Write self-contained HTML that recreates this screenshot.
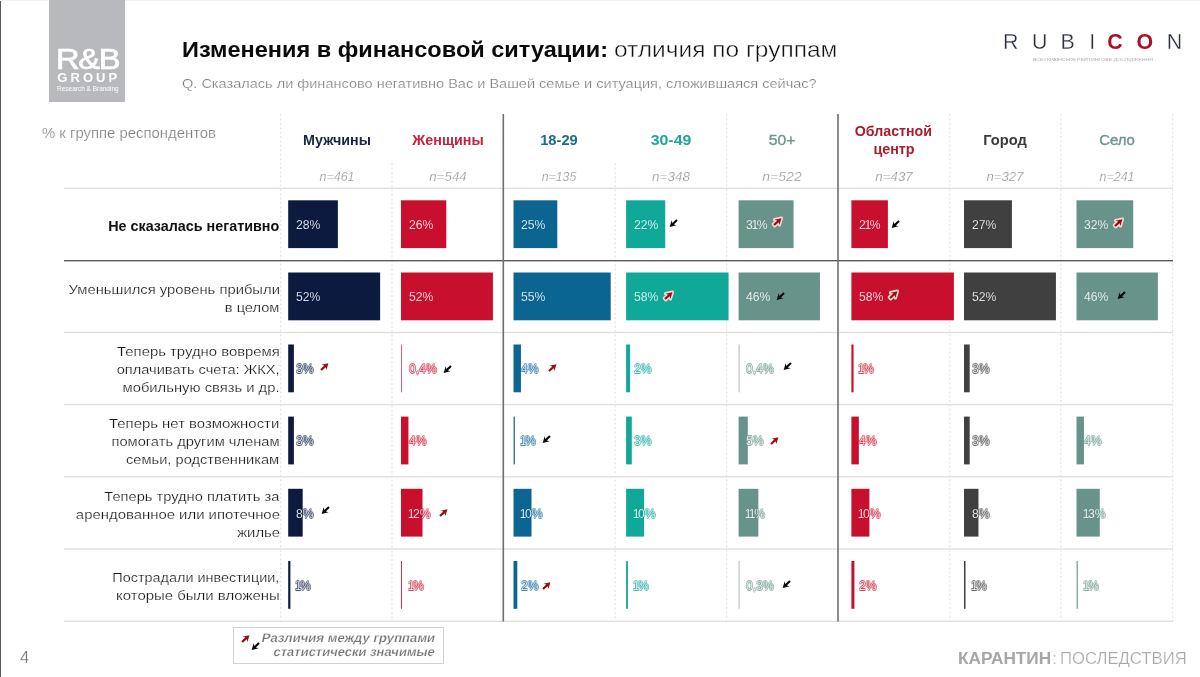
<!DOCTYPE html>
<html lang="ru"><head><meta charset="utf-8"><title>Изменения в финансовой ситуации</title>
<style>
html,body{margin:0;padding:0;background:#fff;}
body{width:1200px;height:677px;position:relative;overflow:hidden;font-family:"Liberation Sans", Arial, sans-serif;}
.t{position:absolute;white-space:nowrap;line-height:1;}
.b{position:absolute;}
.l{position:absolute;white-space:nowrap;line-height:1;font-size:13.5px;color:#fff;-webkit-text-stroke:0.25px var(--k);transform:scaleX(0.9);transform-origin:0 50%;text-shadow:.85px 0 var(--c),-.85px 0 var(--c),0 .85px var(--c),0 -.85px var(--c),.6px .6px var(--c),-.6px .6px var(--c),.6px -.6px var(--c),-.6px -.6px var(--c);}
.l i{font-style:normal;margin:0 -1.5px;}
.hl{position:absolute;height:1.5px;left:64px;width:1109px;background:#e0e0e0;}
.vd{position:absolute;width:1.3px;background:repeating-linear-gradient(to bottom,#e4e4e4 0,#e4e4e4 2.2px,transparent 2.2px,transparent 4.4px);}
.vs{position:absolute;width:1.6px;background:#6e6e6e;}
svg{position:absolute;overflow:visible;}
</style></head><body>
<div class="b" style="left:0;top:0;width:1.2px;height:677px;background:#585858"></div>
<div class="b" style="left:0;top:0;width:1200px;height:1px;background:#f3f3f3"></div>
<div class="b" style="left:49.3px;top:0;width:75.6px;height:101.6px;background:#b8b9bd"></div>
<svg width="1200" height="677" viewBox="0 0 1200 677" style="left:0;top:0">
<line x1="280.60" y1="114" x2="280.60" y2="621.5" stroke="#e7e7e7" stroke-width="1.3" stroke-dasharray="2.2 2.2"/>
<line x1="392.00" y1="163" x2="392.00" y2="621.5" stroke="#e7e7e7" stroke-width="1.3" stroke-dasharray="2.2 2.2"/>
<line x1="615.20" y1="163" x2="615.20" y2="621.5" stroke="#e7e7e7" stroke-width="1.3" stroke-dasharray="2.2 2.2"/>
<line x1="726.60" y1="114" x2="726.60" y2="621.5" stroke="#e7e7e7" stroke-width="1.3" stroke-dasharray="2.2 2.2"/>
<line x1="949.70" y1="114" x2="949.70" y2="621.5" stroke="#e7e7e7" stroke-width="1.3" stroke-dasharray="2.2 2.2"/>
<line x1="1060.80" y1="114" x2="1060.80" y2="621.5" stroke="#e7e7e7" stroke-width="1.3" stroke-dasharray="2.2 2.2"/>
<line x1="1172.60" y1="114" x2="1172.60" y2="621.5" stroke="#e7e7e7" stroke-width="1.3" stroke-dasharray="2.2 2.2"/>
<rect x="64" y="187.60" width="1109" height="1.4" fill="#e0e0e0"/>
<rect x="64" y="260.05" width="1109" height="1.3" fill="#505050"/>
<rect x="64" y="331.80" width="1109" height="1.4" fill="#e0e0e0"/>
<rect x="64" y="403.90" width="1109" height="1.4" fill="#e0e0e0"/>
<rect x="64" y="476.10" width="1109" height="1.4" fill="#e0e0e0"/>
<rect x="64" y="548.30" width="1109" height="1.4" fill="#e0e0e0"/>
<rect x="64" y="620.60" width="1109" height="1.4" fill="#e0e0e0"/>
<rect x="502.50" y="114" width="1.6" height="507.5" fill="#6e6e6e"/>
<rect x="837.20" y="114" width="1.6" height="507.5" fill="#6e6e6e"/>
<rect x="288.20" y="200.30" width="49.68" height="47.80" fill="#0c1a40"/>
<rect x="401.00" y="200.30" width="45.30" height="47.80" fill="#c8102e"/>
<rect x="513.50" y="200.30" width="43.80" height="47.80" fill="#0c6591"/>
<rect x="626.10" y="200.30" width="39.12" height="47.80" fill="#0fa899"/>
<rect x="738.60" y="200.30" width="54.96" height="47.80" fill="#67938a"/>
<rect x="851.40" y="200.30" width="36.50" height="47.80" fill="#c8102e"/>
<rect x="964.00" y="200.30" width="47.92" height="47.80" fill="#404040"/>
<rect x="1076.50" y="200.30" width="56.72" height="47.80" fill="#67938a"/>
<rect x="288.20" y="272.50" width="91.92" height="47.80" fill="#0c1a40"/>
<rect x="401.00" y="272.50" width="91.92" height="47.80" fill="#c8102e"/>
<rect x="513.50" y="272.50" width="97.20" height="47.80" fill="#0c6591"/>
<rect x="626.10" y="272.50" width="102.48" height="47.80" fill="#0fa899"/>
<rect x="738.60" y="272.50" width="81.36" height="47.80" fill="#67938a"/>
<rect x="851.40" y="272.50" width="102.48" height="47.80" fill="#c8102e"/>
<rect x="964.00" y="272.50" width="91.92" height="47.80" fill="#404040"/>
<rect x="1076.50" y="272.50" width="81.36" height="47.80" fill="#67938a"/>
<rect x="288.20" y="344.50" width="5.68" height="47.80" fill="#0c1a40"/>
<rect x="401.00" y="344.50" width="1.00" height="47.80" fill="#d9627a"/>
<rect x="513.50" y="344.50" width="7.44" height="47.80" fill="#0c6591"/>
<rect x="626.10" y="344.50" width="3.92" height="47.80" fill="#0fa899"/>
<rect x="738.60" y="344.50" width="1.00" height="47.80" fill="#aeb8b5"/>
<rect x="851.40" y="344.50" width="2.16" height="47.80" fill="#c8102e"/>
<rect x="964.00" y="344.50" width="5.68" height="47.80" fill="#404040"/>
<rect x="288.20" y="416.60" width="5.68" height="47.80" fill="#0c1a40"/>
<rect x="401.00" y="416.60" width="7.44" height="47.80" fill="#c8102e"/>
<rect x="513.50" y="416.60" width="1.50" height="47.80" fill="#3b7fa3"/>
<rect x="626.10" y="416.60" width="5.68" height="47.80" fill="#0fa899"/>
<rect x="738.60" y="416.60" width="9.20" height="47.80" fill="#67938a"/>
<rect x="851.40" y="416.60" width="7.44" height="47.80" fill="#c8102e"/>
<rect x="964.00" y="416.60" width="5.68" height="47.80" fill="#404040"/>
<rect x="1076.50" y="416.60" width="7.44" height="47.80" fill="#67938a"/>
<rect x="288.20" y="488.80" width="14.48" height="47.80" fill="#0c1a40"/>
<rect x="401.00" y="488.80" width="21.52" height="47.80" fill="#c8102e"/>
<rect x="513.50" y="488.80" width="18.00" height="47.80" fill="#0c6591"/>
<rect x="626.10" y="488.80" width="18.00" height="47.80" fill="#0fa899"/>
<rect x="738.60" y="488.80" width="19.76" height="47.80" fill="#67938a"/>
<rect x="851.40" y="488.80" width="18.00" height="47.80" fill="#c8102e"/>
<rect x="964.00" y="488.80" width="14.48" height="47.80" fill="#404040"/>
<rect x="1076.50" y="488.80" width="23.28" height="47.80" fill="#67938a"/>
<rect x="288.20" y="561.00" width="2.20" height="47.80" fill="#0c1a40"/>
<rect x="401.00" y="561.00" width="1.00" height="47.80" fill="#d0304a"/>
<rect x="513.50" y="561.00" width="3.80" height="47.80" fill="#0c6591"/>
<rect x="626.10" y="561.00" width="1.80" height="47.80" fill="#0fa899"/>
<rect x="738.60" y="561.00" width="1.00" height="47.80" fill="#b4bcba"/>
<rect x="851.40" y="561.00" width="3.00" height="47.80" fill="#c8102e"/>
<rect x="964.00" y="561.00" width="1.50" height="47.80" fill="#404040"/>
<rect x="1076.50" y="561.00" width="1.50" height="47.80" fill="#8fb0a9"/>
</svg>
<div class="l" style="left:295.8px;top:218.00px;--k:rgba(12,26,64,0.70);--c:rgba(12,26,64,0.33)">28%</div>
<div class="l" style="left:408.6px;top:218.00px;--k:rgba(200,16,46,0.70);--c:rgba(200,16,46,0.33)">26%</div>
<div class="l" style="left:521.1px;top:218.00px;--k:rgba(12,101,145,0.70);--c:rgba(12,101,145,0.33)">25%</div>
<div class="l" style="left:633.7px;top:218.00px;--k:rgba(15,168,153,0.70);--c:rgba(15,168,153,0.33)">22%</div>
<div class="l" style="left:746.2px;top:218.00px;--k:rgba(103,147,138,0.70);--c:rgba(103,147,138,0.33)">3<i>1</i>%</div>
<div class="l" style="left:859.0px;top:218.00px;--k:rgba(200,16,46,0.70);--c:rgba(200,16,46,0.33)">2<i>1</i>%</div>
<div class="l" style="left:971.6px;top:218.00px;--k:rgba(64,64,64,0.70);--c:rgba(64,64,64,0.33)">27%</div>
<div class="l" style="left:1084.1px;top:218.00px;--k:rgba(103,147,138,0.70);--c:rgba(103,147,138,0.33)">32%</div>
<div class="l" style="left:295.8px;top:290.00px;--k:rgba(12,26,64,0.70);--c:rgba(12,26,64,0.33)">52%</div>
<div class="l" style="left:408.6px;top:290.00px;--k:rgba(200,16,46,0.70);--c:rgba(200,16,46,0.33)">52%</div>
<div class="l" style="left:521.1px;top:290.00px;--k:rgba(12,101,145,0.70);--c:rgba(12,101,145,0.33)">55%</div>
<div class="l" style="left:633.7px;top:290.00px;--k:rgba(15,168,153,0.70);--c:rgba(15,168,153,0.33)">58%</div>
<div class="l" style="left:746.2px;top:290.00px;--k:rgba(103,147,138,0.70);--c:rgba(103,147,138,0.33)">46%</div>
<div class="l" style="left:859.0px;top:290.00px;--k:rgba(200,16,46,0.70);--c:rgba(200,16,46,0.33)">58%</div>
<div class="l" style="left:971.6px;top:290.00px;--k:rgba(64,64,64,0.70);--c:rgba(64,64,64,0.33)">52%</div>
<div class="l" style="left:1084.1px;top:290.00px;--k:rgba(103,147,138,0.70);--c:rgba(103,147,138,0.33)">46%</div>
<div class="l" style="left:295.8px;top:362.00px;--k:rgba(12,26,64,0.70);--c:rgba(12,26,64,0.33)">3%</div>
<div class="l" style="left:408.6px;top:362.00px;--k:rgba(200,16,46,0.70);--c:rgba(200,16,46,0.33)">0,4%</div>
<div class="l" style="left:521.1px;top:362.00px;--k:rgba(12,101,145,0.70);--c:rgba(12,101,145,0.33)">4%</div>
<div class="l" style="left:633.7px;top:362.00px;--k:rgba(15,168,153,0.70);--c:rgba(15,168,153,0.33)">2%</div>
<div class="l" style="left:746.2px;top:362.00px;--k:rgba(103,147,138,0.70);--c:rgba(103,147,138,0.33)">0,4%</div>
<div class="l" style="left:859.0px;top:362.00px;--k:rgba(200,16,46,0.70);--c:rgba(200,16,46,0.33)"><i>1</i>%</div>
<div class="l" style="left:971.6px;top:362.00px;--k:rgba(64,64,64,0.70);--c:rgba(64,64,64,0.33)">3%</div>
<div class="l" style="left:295.8px;top:434.00px;--k:rgba(12,26,64,0.70);--c:rgba(12,26,64,0.33)">3%</div>
<div class="l" style="left:408.6px;top:434.00px;--k:rgba(200,16,46,0.70);--c:rgba(200,16,46,0.33)">4%</div>
<div class="l" style="left:521.1px;top:434.00px;--k:rgba(12,101,145,0.70);--c:rgba(12,101,145,0.33)"><i>1</i>%</div>
<div class="l" style="left:633.7px;top:434.00px;--k:rgba(15,168,153,0.70);--c:rgba(15,168,153,0.33)">3%</div>
<div class="l" style="left:746.2px;top:434.00px;--k:rgba(103,147,138,0.70);--c:rgba(103,147,138,0.33)">5%</div>
<div class="l" style="left:859.0px;top:434.00px;--k:rgba(200,16,46,0.70);--c:rgba(200,16,46,0.33)">4%</div>
<div class="l" style="left:971.6px;top:434.00px;--k:rgba(64,64,64,0.70);--c:rgba(64,64,64,0.33)">3%</div>
<div class="l" style="left:1084.1px;top:434.00px;--k:rgba(103,147,138,0.70);--c:rgba(103,147,138,0.33)">4%</div>
<div class="l" style="left:295.8px;top:507.00px;--k:rgba(12,26,64,0.70);--c:rgba(12,26,64,0.33)">8%</div>
<div class="l" style="left:408.6px;top:507.00px;--k:rgba(200,16,46,0.70);--c:rgba(200,16,46,0.33)"><i>1</i>2%</div>
<div class="l" style="left:521.1px;top:507.00px;--k:rgba(12,101,145,0.70);--c:rgba(12,101,145,0.33)"><i>1</i>0%</div>
<div class="l" style="left:633.7px;top:507.00px;--k:rgba(15,168,153,0.70);--c:rgba(15,168,153,0.33)"><i>1</i>0%</div>
<div class="l" style="left:746.2px;top:507.00px;--k:rgba(103,147,138,0.70);--c:rgba(103,147,138,0.33)"><i>1</i><i>1</i>%</div>
<div class="l" style="left:859.0px;top:507.00px;--k:rgba(200,16,46,0.70);--c:rgba(200,16,46,0.33)"><i>1</i>0%</div>
<div class="l" style="left:971.6px;top:507.00px;--k:rgba(64,64,64,0.70);--c:rgba(64,64,64,0.33)">8%</div>
<div class="l" style="left:1084.1px;top:507.00px;--k:rgba(103,147,138,0.70);--c:rgba(103,147,138,0.33)"><i>1</i>3%</div>
<div class="l" style="left:295.8px;top:579.00px;--k:rgba(12,26,64,0.70);--c:rgba(12,26,64,0.33)"><i>1</i>%</div>
<div class="l" style="left:408.6px;top:579.00px;--k:rgba(200,16,46,0.70);--c:rgba(200,16,46,0.33)"><i>1</i>%</div>
<div class="l" style="left:521.1px;top:579.00px;--k:rgba(12,101,145,0.70);--c:rgba(12,101,145,0.33)">2%</div>
<div class="l" style="left:633.7px;top:579.00px;--k:rgba(15,168,153,0.70);--c:rgba(15,168,153,0.33)"><i>1</i>%</div>
<div class="l" style="left:746.2px;top:579.00px;--k:rgba(103,147,138,0.70);--c:rgba(103,147,138,0.33)">0,3%</div>
<div class="l" style="left:859.0px;top:579.00px;--k:rgba(200,16,46,0.70);--c:rgba(200,16,46,0.33)">2%</div>
<div class="l" style="left:971.6px;top:579.00px;--k:rgba(64,64,64,0.70);--c:rgba(64,64,64,0.33)"><i>1</i>%</div>
<div class="l" style="left:1084.1px;top:579.00px;--k:rgba(103,147,138,0.70);--c:rgba(103,147,138,0.33)"><i>1</i>%</div>
<div class="b" style="left:232.8px;top:627.2px;width:209.2px;height:35.2px;border:1px solid #d2d2d2;background:#fff"></div>
<div class="t" id="t0" style="left:181.5px;top:40.00px;font-size:21.5px;font-weight:700;color:#0a0a0a;transform:scaleX(1.0942);transform-origin:0 50%;">Изменения в финансовой ситуации:</div>
<div class="t" id="t1" style="left:614.3px;top:40.00px;font-size:21.5px;color:#111;-webkit-text-stroke:0.4px #fff;transform:scaleX(1.1389);transform-origin:0 50%;">отличия по группам</div>
<div class="t" id="t2" style="left:181.7px;top:77.00px;font-size:13.2px;color:#7c7c7c;-webkit-text-stroke:0.22px #fff;transform:scaleX(1.1020);transform-origin:0 50%;">Q. Сказалась ли финансово негативно Вас и Вашей семье и ситуация, сложившаяся сейчас?</div>
<div class="t" id="t3" style="left:41.7px;top:126.00px;font-size:14px;color:#7e7e7e;-webkit-text-stroke:0.22px #fff;transform:scaleX(1.0625);transform-origin:0 50%;">% к группе респондентов</div>
<div class="t" id="t4" style="left:336.5px;top:133.00px;font-size:14.2px;font-weight:700;color:#1b2447;transform:translateX(-50%) scaleX(1.0084);transform-origin:50% 50%;">Мужчины</div>
<div class="t" id="t5" style="left:447.6px;top:133.00px;font-size:14.2px;font-weight:700;color:#c5203c;transform:translateX(-50%) scaleX(1.0089);transform-origin:50% 50%;">Женщины</div>
<div class="t" id="t6" style="left:559.1px;top:133.00px;font-size:14.2px;font-weight:700;color:#1d6a8f;transform:translateX(-50%) scaleX(1.0359);transform-origin:50% 50%;">18-29</div>
<div class="t" id="t7" style="left:670.6px;top:133.00px;font-size:14.2px;font-weight:700;color:#1fa596;transform:translateX(-50%) scaleX(1.1213);transform-origin:50% 50%;">30-49</div>
<div class="t" id="t8" style="left:782.4px;top:133.00px;font-size:14.2px;color:#6b968d;-webkit-text-stroke:0.35px #6b968d;transform:translateX(-50%) scaleX(1.1089);transform-origin:50% 50%;">50+</div>
<div class="t" id="t9" style="left:1005.4px;top:133.00px;font-size:14.2px;font-weight:700;color:#3b3b3b;transform:translateX(-50%) scaleX(1.0366);transform-origin:50% 50%;">Город</div>
<div class="t" id="t10" style="left:1117.0px;top:133.00px;font-size:14.2px;color:#6b968d;-webkit-text-stroke:0.35px #6b968d;transform:translateX(-50%) scaleX(1.0500);transform-origin:50% 50%;">Село</div>
<div class="t" id="t11" style="left:893.4px;top:124.00px;font-size:14.2px;font-weight:700;color:#a81d2c;transform:translateX(-50%);transform-origin:50% 50%;">Областной</div>
<div class="t" id="t12" style="left:893.6px;top:142.00px;font-size:14.2px;font-weight:700;color:#a81d2c;transform:translateX(-50%) scaleX(1.0074);transform-origin:50% 50%;">центр</div>
<div class="t" id="t13" style="left:336.5px;top:170.00px;font-size:13px;font-style:italic;color:#969696;-webkit-text-stroke:0.22px #fff;transform:translateX(-50%) scaleX(0.9585);transform-origin:50% 50%;">n=461</div>
<div class="t" id="t14" style="left:447.6px;top:170.00px;font-size:13px;font-style:italic;color:#969696;-webkit-text-stroke:0.22px #fff;transform:translateX(-50%) scaleX(1.0215);transform-origin:50% 50%;">n=544</div>
<div class="t" id="t15" style="left:559.1px;top:170.00px;font-size:13px;font-style:italic;color:#969696;-webkit-text-stroke:0.22px #fff;transform:translateX(-50%) scaleX(0.9503);transform-origin:50% 50%;">n=135</div>
<div class="t" id="t16" style="left:670.6px;top:170.00px;font-size:13px;font-style:italic;color:#969696;-webkit-text-stroke:0.22px #fff;transform:translateX(-50%) scaleX(1.0352);transform-origin:50% 50%;">n=348</div>
<div class="t" id="t17" style="left:782.4px;top:170.00px;font-size:13px;font-style:italic;color:#969696;-webkit-text-stroke:0.22px #fff;transform:translateX(-50%) scaleX(1.0817);transform-origin:50% 50%;">n=522</div>
<div class="t" id="t18" style="left:893.6px;top:170.00px;font-size:13px;font-style:italic;color:#969696;-webkit-text-stroke:0.22px #fff;transform:translateX(-50%) scaleX(1.0242);transform-origin:50% 50%;">n=437</div>
<div class="t" id="t19" style="left:1005.4px;top:170.00px;font-size:13px;font-style:italic;color:#969696;-webkit-text-stroke:0.22px #fff;transform:translateX(-50%) scaleX(1.0160);transform-origin:50% 50%;">n=327</div>
<div class="t" id="t20" style="left:1117.0px;top:170.00px;font-size:13px;font-style:italic;color:#969696;-webkit-text-stroke:0.22px #fff;transform:translateX(-50%) scaleX(0.9585);transform-origin:50% 50%;">n=241</div>
<div class="t" id="t21" style="right:920.5px;top:219.00px;font-size:14.2px;font-weight:700;color:#111;transform:scaleX(1.0104);transform-origin:100% 50%;">Не сказалась негативно</div>
<div class="t" id="t22" style="right:920.5px;top:283.00px;font-size:13.5px;color:#161616;-webkit-text-stroke:0.22px #fff;transform:scaleX(1.0959);transform-origin:100% 50%;">Уменьшился уровень прибыли</div>
<div class="t" id="t23" style="right:920.5px;top:301.00px;font-size:13.5px;color:#161616;-webkit-text-stroke:0.22px #fff;transform:scaleX(1.0835);transform-origin:100% 50%;">в целом</div>
<div class="t" id="t24" style="right:920.5px;top:345.00px;font-size:13.5px;color:#161616;-webkit-text-stroke:0.22px #fff;transform:scaleX(1.1010);transform-origin:100% 50%;">Теперь трудно вовремя</div>
<div class="t" id="t25" style="right:920.5px;top:363.00px;font-size:13.5px;color:#161616;-webkit-text-stroke:0.22px #fff;transform:scaleX(1.0817);transform-origin:100% 50%;">оплачивать счета: ЖКХ,</div>
<div class="t" id="t26" style="right:920.5px;top:381.00px;font-size:13.5px;color:#161616;-webkit-text-stroke:0.22px #fff;transform:scaleX(1.0937);transform-origin:100% 50%;">мобильную связь и др.</div>
<div class="t" id="t27" style="right:920.5px;top:417.00px;font-size:13.5px;color:#161616;-webkit-text-stroke:0.22px #fff;transform:scaleX(1.1035);transform-origin:100% 50%;">Теперь нет возможности</div>
<div class="t" id="t28" style="right:920.5px;top:435.00px;font-size:13.5px;color:#161616;-webkit-text-stroke:0.22px #fff;transform:scaleX(1.0876);transform-origin:100% 50%;">помогать другим членам</div>
<div class="t" id="t29" style="right:920.5px;top:453.00px;font-size:13.5px;color:#161616;-webkit-text-stroke:0.22px #fff;transform:scaleX(1.0849);transform-origin:100% 50%;">семьи, родственникам</div>
<div class="t" id="t30" style="right:920.5px;top:490.00px;font-size:13.5px;color:#161616;-webkit-text-stroke:0.22px #fff;transform:scaleX(1.0847);transform-origin:100% 50%;">Теперь трудно платить за</div>
<div class="t" id="t31" style="right:920.5px;top:508.00px;font-size:13.5px;color:#161616;-webkit-text-stroke:0.22px #fff;transform:scaleX(1.1035);transform-origin:100% 50%;">арендованное или ипотечное</div>
<div class="t" id="t32" style="right:920.5px;top:526.00px;font-size:13.5px;color:#161616;-webkit-text-stroke:0.22px #fff;transform:scaleX(1.0974);transform-origin:100% 50%;">жилье</div>
<div class="t" id="t33" style="right:920.5px;top:571.00px;font-size:13.5px;color:#161616;-webkit-text-stroke:0.22px #fff;transform:scaleX(1.0686);transform-origin:100% 50%;">Пострадали инвестиции,</div>
<div class="t" id="t34" style="right:920.5px;top:589.00px;font-size:13.5px;color:#161616;-webkit-text-stroke:0.22px #fff;transform:scaleX(1.1080);transform-origin:100% 50%;">которые были вложены</div>
<div class="t" id="t35" style="left:20.0px;top:649.00px;font-size:17px;color:#777;-webkit-text-stroke:0.22px #fff;transform:scaleX(0.9716);transform-origin:0 50%;">4</div>
<div class="t" id="t36" style="left:958.4px;top:651.00px;font-size:16.8px;font-weight:700;color:#a6a6a6;transform:scaleX(1.0270);transform-origin:0 50%;">КАРАНТИН</div>
<div class="t" id="t37" style="left:1052.2px;top:651.00px;font-size:16.8px;color:#b8b8b8;-webkit-text-stroke:0.22px #fff;">:</div>
<div class="t" id="t38" style="left:1060.3px;top:651.00px;font-size:16.8px;color:#aaa;-webkit-text-stroke:0.22px #fff;transform:scaleX(0.9942);transform-origin:0 50%;">ПОСЛЕДСТВИЯ</div>
<div class="t" id="t39" style="right:765.2px;top:632.00px;font-size:12.4px;font-weight:700;color:#747474;-webkit-text-stroke:0.22px #fff;transform:scaleX(1.0622) skewX(-11deg);transform-origin:100% 50%;">Различия между группами</div>
<div class="t" id="t40" style="right:765.2px;top:646.00px;font-size:12.4px;font-weight:700;color:#747474;-webkit-text-stroke:0.22px #fff;transform:scaleX(1.0489) skewX(-11deg);transform-origin:100% 50%;">статистически значимые</div>
<div class="t" id="t41" style="left:55.9px;top:45.00px;font-size:29.2px;color:#fff;letter-spacing:-1.2px;-webkit-text-stroke:0.7px #fff;transform:scaleX(1.1201);transform-origin:0 50%;">R&amp;B</div>
<div class="t" id="t42" style="left:57.2px;top:71.00px;font-size:13px;font-weight:700;color:#fff;letter-spacing:3.1px;">GROUP</div>
<div class="t" id="t43" style="left:57.2px;top:86.00px;font-size:6.4px;color:#fff;transform:scaleX(1.0140);transform-origin:0 50%;">Research &amp; Branding</div>
<div class="t" id="t44" style="left:1002.9px;top:32.00px;font-size:21.4px;color:#2b3042;-webkit-text-stroke:0.3px #fff;"><span style="letter-spacing:13.65px">R</span><span style="letter-spacing:13.05px">U</span><span style="letter-spacing:14.55px">B</span><span style="letter-spacing:11.95px">I</span><b style="color:#a8102c;letter-spacing:13.75px;-webkit-text-stroke:0 #fff">CO</b>N</div>
<div class="t" id="t45" style="left:1033.0px;top:59.00px;font-size:3.5px;color:#a4acbd;transform:scaleX(1.4968);transform-origin:0 50%;">ВСЕУКРАЇНСЬКЕ РЕЙТИНГОВЕ ДОСЛІДЖЕННЯ</div>
<svg width="0" height="0" style="left:0;top:0"><defs><path id="ar" d="M0,-1.1 L5.4,-1.1 L4,-3.6 L10.1,0 L4,3.6 L5.4,1.1 L0,1.1 Z"/></defs></svg>
<svg width="1" height="1" style="left:677.0px;top:219.9px"><use href="#ar" transform="rotate(136.5)" fill="#0a0a0a"/></svg>
<svg width="1" height="1" style="left:774.0px;top:225.4px"><use href="#ar" transform="rotate(-42.5)" fill="#f0d9d0" stroke="#f0d9d0" stroke-width="3.2" stroke-linejoin="round"/><use href="#ar" transform="rotate(-42.5)" fill="#9c0b17"/></svg>
<svg width="1" height="1" style="left:898.8px;top:220.6px"><use href="#ar" transform="rotate(136.5)" fill="#0a0a0a"/></svg>
<svg width="1" height="1" style="left:1114.6px;top:225.5px"><use href="#ar" transform="rotate(-42.5)" fill="#f0d9d0" stroke="#f0d9d0" stroke-width="3.2" stroke-linejoin="round"/><use href="#ar" transform="rotate(-42.5)" fill="#9c0b17"/></svg>
<svg width="1" height="1" style="left:665.1px;top:298.8px"><use href="#ar" transform="rotate(-42.5)" fill="#f0d9d0" stroke="#f0d9d0" stroke-width="3.2" stroke-linejoin="round"/><use href="#ar" transform="rotate(-42.5)" fill="#9c0b17"/></svg>
<svg width="1" height="1" style="left:784.0px;top:292.7px"><use href="#ar" transform="rotate(136.5)" fill="#0a0a0a"/></svg>
<svg width="1" height="1" style="left:890.2px;top:297.8px"><use href="#ar" transform="rotate(-42.5)" fill="#f0d9d0" stroke="#f0d9d0" stroke-width="3.2" stroke-linejoin="round"/><use href="#ar" transform="rotate(-42.5)" fill="#9c0b17"/></svg>
<svg width="1" height="1" style="left:1125.1px;top:292.3px"><use href="#ar" transform="rotate(136.5)" fill="#0a0a0a"/></svg>
<svg width="1" height="1" style="left:320.6px;top:370.2px"><use href="#ar" transform="rotate(-42.5)" fill="#9c0b17"/></svg>
<svg width="1" height="1" style="left:450.6px;top:366.0px"><use href="#ar" transform="rotate(136.5)" fill="#0a0a0a"/></svg>
<svg width="1" height="1" style="left:549.3px;top:371.4px"><use href="#ar" transform="rotate(-42.5)" fill="#9c0b17"/></svg>
<svg width="1" height="1" style="left:791.0px;top:362.7px"><use href="#ar" transform="rotate(136.5)" fill="#0a0a0a"/></svg>
<svg width="1" height="1" style="left:549.5px;top:436.4px"><use href="#ar" transform="rotate(136.5)" fill="#0a0a0a"/></svg>
<svg width="1" height="1" style="left:771.2px;top:443.6px"><use href="#ar" transform="rotate(-42.5)" fill="#9c0b17"/></svg>
<svg width="1" height="1" style="left:328.5px;top:507.3px"><use href="#ar" transform="rotate(136.5)" fill="#0a0a0a"/></svg>
<svg width="1" height="1" style="left:439.8px;top:515.6px"><use href="#ar" transform="rotate(-42.5)" fill="#9c0b17"/></svg>
<svg width="1" height="1" style="left:543.1px;top:588.8px"><use href="#ar" transform="rotate(-42.5)" fill="#9c0b17"/></svg>
<svg width="1" height="1" style="left:789.5px;top:581.2px"><use href="#ar" transform="rotate(136.5)" fill="#0a0a0a"/></svg>
<svg width="1" height="1" style="left:241.8px;top:642.4px"><use href="#ar" transform="rotate(-42.5)" fill="#9c0b17"/></svg>
<svg width="1" height="1" style="left:258.8px;top:642.5px"><use href="#ar" transform="rotate(136.5)" fill="#0a0a0a"/></svg>
</body></html>
